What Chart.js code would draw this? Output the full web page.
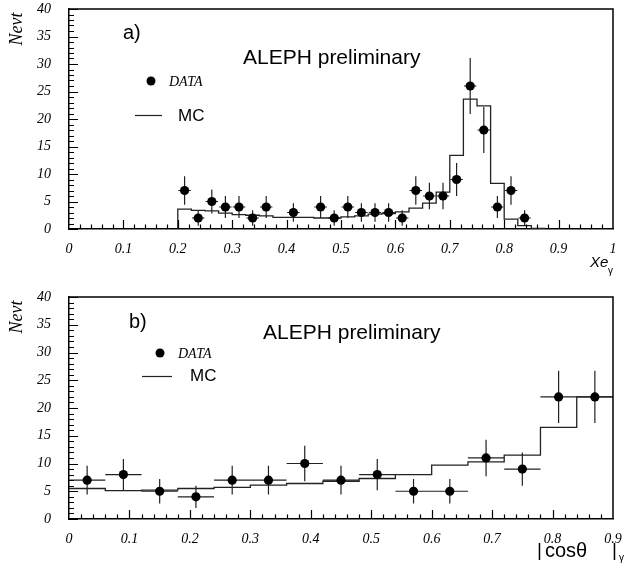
<!DOCTYPE html>
<html><head><meta charset="utf-8">
<script src="https://cdn.jsdelivr.net/npm/chart.js@4.4.0/dist/chart.umd.min.js"></script>
<style>
html,body{margin:0;padding:0;background:#fff;}
#wrap{position:relative;width:629px;height:564px;overflow:hidden;}
.panel{position:absolute;left:0;width:629px;height:282px;}
canvas{display:block;}
</style></head><body>
<div id="wrap">
<div class="panel" style="top:0"><canvas id="c1" width="629" height="282"></canvas></div>
<div class="panel" style="top:282px"><canvas id="c2" width="629" height="282"></canvas></div>
</div>
<script>
// ---- panel a) : Xe_gamma ----
const xeBinCenters = [0.2125,0.2375,0.2625,0.2875,0.3125,0.3375,0.3625,0.4125,0.4625,0.4875,0.5125,0.5375,0.5625,0.5875,0.6125,0.6375,0.6625,0.6875,0.7125,0.7375,0.7625,0.7875,0.8125,0.8375];
const xeCounts     = [7,2,5,4,4,2,4,3,4,2,4,3,3,3,2,7,6,6,9,26,18,4,7,2];
const xeErrors     = [2.6,1.4,2.2,2.0,2.0,1.4,2.0,1.7,2.0,1.4,2.0,1.7,1.7,1.7,1.4,2.6,2.4,2.4,3.0,5.1,4.2,2.0,2.6,1.4];
const xeMcEdges    = [0.200,0.225,0.250,0.275,0.300,0.325,0.350,0.375,0.400,0.425,0.450,0.475,0.500,0.525,0.550,0.575,0.600,0.625,0.650,0.675,0.700,0.725,0.750,0.775,0.800,0.825,0.850,0.875];
const xeMcValues   = [3.6,3.4,3.3,2.9,2.6,2.5,2.4,2.1,2.1,2.1,2.0,2.0,2.2,2.4,2.7,2.8,3.1,3.8,4.7,6.7,13.4,23.6,22.4,8.3,1.8,0.6,0.1];
const xeTickLabels = ['0','0.1','0.2','0.3','0.4','0.5','0.6','0.7','0.8','0.9','1'];

// ---- panel b) : |cos theta|_gamma ----
const cosBinCenters = [0.03,0.09,0.15,0.21,0.27,0.33,0.39,0.45,0.51,0.57,0.63,0.69,0.75,0.81,0.87];
const cosCounts     = [7,8,5,4,7,7,10,7,8,5,5,11,9,22,22];
const cosErrors     = [2.6,2.8,2.2,2.0,2.6,2.6,3.2,2.6,2.8,2.2,2.2,3.3,3.0,4.7,4.7];
const cosMcEdges    = [0,0.06,0.12,0.18,0.24,0.30,0.36,0.42,0.48,0.54,0.60,0.66,0.72,0.78,0.84,0.90];
const cosMcValues   = [5.5,5.1,5.2,5.5,5.7,6.1,6.4,6.8,7.3,8.0,9.7,10.3,11.5,16.5,22.0];
const cosTickLabels = ['0','0.1','0.2','0.3','0.4','0.5','0.6','0.7','0.8','0.9'];

const yTickLabels = ['0','5','10','15','20','25','30','35','40'];

function histPoints(edges, vals, riseFromZero, dropToZero) {
  const pts = [];
  if (riseFromZero) pts.push({x: edges[0], y: 0});
  for (let i = 0; i < vals.length; i++) pts.push({x: edges[i], y: vals[i]});
  pts.push({x: edges[edges.length-1], y: dropToZero ? 0 : vals[vals.length-1]});
  return pts;
}

const SERIF = '"Liberation Serif", "Times New Roman", serif';
const SANS = '"Liberation Sans", Arial, sans-serif';

function makePanel(canvasId, cfg) {
  const decor = {
    id: 'decor' + canvasId,
    beforeDatasetsDraw(chart) {
      const ctx = chart.ctx, xs = chart.scales.x, ys = chart.scales.y;
      ctx.save();
      ctx.strokeStyle = '#222';
      ctx.lineWidth = 1.2;
      ctx.beginPath();
      for (let i = 0; i < cfg.centers.length; i++) {
        const c = cfg.centers[i], n = cfg.counts[i], e = cfg.errors[i];
        const px = xs.getPixelForValue(c), py = ys.getPixelForValue(n);
        ctx.moveTo(px, ys.getPixelForValue(n - e));
        ctx.lineTo(px, ys.getPixelForValue(n + e));
        ctx.moveTo(xs.getPixelForValue(c - cfg.halfWidth), py);
        ctx.lineTo(xs.getPixelForValue(c + cfg.halfWidth), py);
      }
      ctx.stroke();
      ctx.restore();
    },
    afterDraw(chart) {
      const ctx = chart.ctx, xs = chart.scales.x, ys = chart.scales.y, a = chart.chartArea;
      ctx.save();
      // frame top/right
      ctx.strokeStyle = '#000';
      ctx.lineWidth = 1.5;
      ctx.beginPath();
      ctx.moveTo(a.left, a.top); ctx.lineTo(a.right, a.top); ctx.lineTo(a.right, a.bottom);
      ctx.stroke();
      // inner ticks
      ctx.lineWidth = 1.2;
      ctx.beginPath();
      for (let v = 0; v <= 40; v++) {
        const py = Math.round(ys.getPixelForValue(v)) + 0.5;
        const len = (v % 5 === 0) ? 9 : 5;
        ctx.moveTo(a.left, py); ctx.lineTo(a.left + len, py);
      }
      const nMinor = Math.round(cfg.xMax / 0.02);
      for (let k = 1; k < nMinor; k++) {
        const v = k * 0.02;
        const px = Math.round(xs.getPixelForValue(v)) + 0.5;
        const len = (k % 5 === 0) ? 9 : 4.5;
        ctx.moveTo(px, a.bottom); ctx.lineTo(px, a.bottom - len);
      }
      ctx.stroke();
      // y title
      ctx.fillStyle = '#000';
      ctx.save();
      ctx.translate(17, cfg.nevtY);
      ctx.rotate(-Math.PI / 2);
      ctx.font = 'italic 18px ' + SERIF;
      ctx.textAlign = 'center'; ctx.textBaseline = 'middle';
      ctx.fillText('Nevt', 0, 0);
      ctx.restore();
      ctx.textBaseline = 'middle'; ctx.textAlign = 'left';
      // panel label
      ctx.font = '20px ' + SANS;
      ctx.fillText(cfg.panelLabel, cfg.panelLabelPos[0], cfg.panelLabelPos[1]);
      // ALEPH preliminary
      ctx.font = '21px ' + SANS;
      ctx.fillText('ALEPH preliminary', cfg.alephPos[0], cfg.alephPos[1]);
      // legend
      ctx.beginPath();
      ctx.arc(cfg.bulletPos[0], cfg.bulletPos[1], 4.5, 0, Math.PI * 2);
      ctx.fill();
      ctx.font = 'italic 14px ' + SERIF;
      ctx.fillText('DATA', cfg.dataTextPos[0], cfg.dataTextPos[1]);
      ctx.strokeStyle = '#222'; ctx.lineWidth = 1.2;
      ctx.beginPath();
      ctx.moveTo(cfg.mcLine[0], cfg.mcLine[2]); ctx.lineTo(cfg.mcLine[1], cfg.mcLine[2]);
      ctx.stroke();
      ctx.font = '17px ' + SANS;
      ctx.fillText('MC', cfg.mcTextPos[0], cfg.mcTextPos[1]);
      // x title pieces
      for (const p of cfg.xTitleParts) {
        ctx.font = p.font;
        ctx.fillText(p.text, p.x, p.y);
      }
      ctx.restore();
    }
  };

  return new Chart(document.getElementById(canvasId), {
    type: 'scatter',
    data: {
      datasets: [
        {
          label: 'MC',
          data: histPoints(cfg.mcEdges, cfg.mcValues, cfg.riseFromZero, cfg.dropToZero),
          showLine: true, stepped: true, pointRadius: 0,
          borderColor: '#222', borderWidth: 1.3, fill: false, order: 2
        },
        {
          label: 'DATA',
          data: cfg.centers.map((c, i) => ({x: c, y: cfg.counts[i]})),
          pointRadius: 4.6, pointStyle: 'circle',
          backgroundColor: '#000', borderColor: '#000', borderWidth: 0, order: 1
        }
      ]
    },
    options: {
      responsive: false, animation: false, events: [],
      layout: { padding: { left: 0, right: 16, top: cfg.padTop, bottom: 0 } },
      plugins: { legend: { display: false }, tooltip: { enabled: false } },
      scales: {
        x: {
          type: 'linear', min: 0, max: cfg.xMax,
          grid: { display: false },
          border: { display: true, color: '#000', width: 1.5 },
          afterFit(s) { s.height = cfg.xHeight; s.paddingLeft = 0; s.paddingRight = 0; },
          afterBuildTicks(s) { s.ticks = cfg.xTickLabels.map((t, i) => ({ value: i * 0.1 })); },
          ticks: {
            autoSkip: false, maxRotation: 0, padding: 4, color: '#000',
            font: { family: SERIF, style: 'italic', size: 14 },
            callback: (v, i) => cfg.xTickLabels[i]
          }
        },
        y: {
          type: 'linear', min: 0, max: 40,
          grid: { display: false },
          border: { display: true, color: '#000', width: 1.5 },
          afterFit(s) { s.width = 69; s.paddingTop = 0; s.paddingBottom = 0; },
          afterBuildTicks(s) { s.ticks = yTickLabels.map((t, i) => ({ value: i * 5 })); },
          ticks: {
            autoSkip: false, padding: 10, color: '#000',
            font: { family: SERIF, style: 'italic', size: 14 },
            callback: (v, i) => yTickLabels[i]
          }
        }
      }
    },
    plugins: [decor]
  });
}

makePanel('c1', {
  centers: xeBinCenters, counts: xeCounts, errors: xeErrors, halfWidth: 0.0115,
  mcEdges: xeMcEdges, mcValues: xeMcValues, riseFromZero: true, dropToZero: true,
  xMax: 1, xTickLabels: xeTickLabels, padTop: 9, xHeight: 53,
  nevtY: 29, panelLabel: 'a)', panelLabelPos: [123, 33], alephPos: [243, 58],
  bulletPos: [151, 81], dataTextPos: [169, 82], mcLine: [135, 162, 115.5], mcTextPos: [178, 116],
  xTitleParts: [
    { text: 'Xe', font: 'italic 15px ' + SANS, x: 590, y: 263 },
    { text: '\u03b3', font: '10px ' + SANS, x: 608, y: 271 }
  ]
});

makePanel('c2', {
  centers: cosBinCenters, counts: cosCounts, errors: cosErrors, halfWidth: 0.03,
  mcEdges: cosMcEdges, mcValues: cosMcValues, riseFromZero: false, dropToZero: false,
  xMax: 0.9, xTickLabels: cosTickLabels, padTop: 15, xHeight: 45,
  nevtY: 35, panelLabel: 'b)', panelLabelPos: [129, 40], alephPos: [263, 51],
  bulletPos: [160, 71], dataTextPos: [178, 72], mcLine: [142, 172, 94.5], mcTextPos: [190, 94],
  xTitleParts: [
    { text: '|', font: '19px ' + SANS, x: 537, y: 269 },
    { text: 'cos\u03b8', font: '20px ' + SANS, x: 545, y: 269 },
    { text: '|', font: '19px ' + SANS, x: 612, y: 269 },
    { text: '\u03b3', font: '10px ' + SANS, x: 619, y: 276 }
  ]
});
</script>
</body></html>
